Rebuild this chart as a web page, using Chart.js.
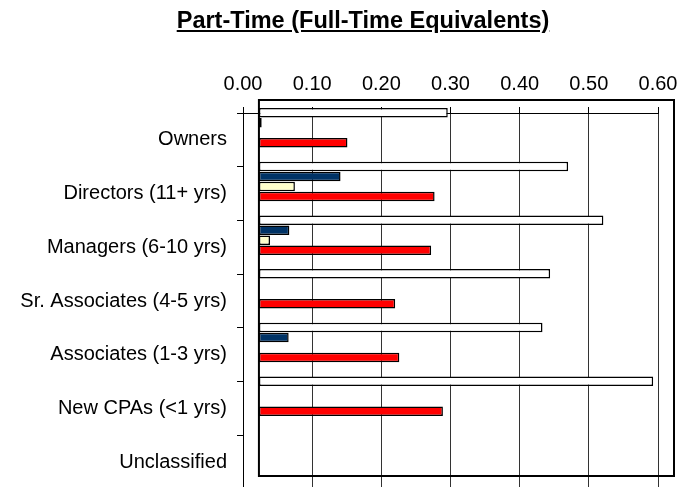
<!DOCTYPE html>
<html>
<head>
<meta charset="utf-8">
<script src="https://cdn.jsdelivr.net/npm/chart.js@4/dist/chart.umd.min.js"></script>
<style>
    html, body { margin: 0; padding: 0; background: #fff; }
    #wrap { position: relative; width: 690px; height: 487px; overflow: hidden; }
    #title {
        position: absolute; left: 0; width: 726px; top: 9px;
        text-align: center; font: bold 23.5px "Liberation Sans", Arial, sans-serif;
        line-height: 23px; text-decoration: underline; color: #000;
    }
    #chart { position: absolute; left: 0; top: 0; }
</style>
</head>
<body>
<div id="wrap">
    <canvas id="chart" width="690" height="511"></canvas>
    <div id="title">Part-Time (Full-Time Equivalents)</div>
</div>
<script>
(function () {
    const CATEGORIES = [
        "Owners",
        "Directors (11+ yrs)",
        "Managers (6-10 yrs)",
        "Sr. Associates (4-5 yrs)",
        "Associates (1-3 yrs)",
        "New CPAs (<1 yrs)",
        "Unclassified"
    ];

    // one value per category, null where no bar is shown
    const seriesWhite  = [0.296, 0.470, 0.521, 0.444, 0.433, 0.593, null];
    const seriesNavy   = [0.027, 0.141, 0.067, null, 0.066, null, null];
    const seriesYellow = [null, 0.075, 0.039, null, null, null, null];
    const seriesRed    = [0.151, 0.277, 0.272, 0.220, 0.226, 0.289, null];

    const X_TICKS = [0, 0.1, 0.2, 0.3, 0.4, 0.5, 0.6];

    // bars in the original start a little right of the 0.00 line
    const BAR_BASE = 0.023;
    const FONT = "'Liberation Sans', Arial, sans-serif";

    function toPoints(values) {
        return values.map((v, i) => ({ x: v, y: i }));
    }

    function makeSet(values, color) {
        return {
            data: toPoints(values),
            backgroundColor: color,
            borderColor: "#000",
            borderWidth: 1.5,
            borderSkipped: false,
            base: BAR_BASE,
            clip: false,
            categoryPercentage: 0.745,
            barPercentage: 0.95
        };
    }

    // the plot frame is offset from the axes, as in the original export
    var plotFrame = {
        id: "plotFrame",
        afterDatasetsDraw(chart) {
            var ctx = chart.ctx,
                area = chart.chartArea,
                left = chart.scales.x.getPixelForValue(BAR_BASE);

            ctx.save();
            ctx.strokeStyle = "#000";
            ctx.lineWidth = 2;
            ctx.strokeRect(left, area.top - 13, area.right + 16 - left, area.bottom - area.top);
            ctx.restore();
        }
    };

    new Chart(document.getElementById("chart"), {
        type: "bar",
        data: {
            datasets: [
                makeSet(seriesWhite, "#ffffff"),
                makeSet(seriesNavy, "#003366"),
                makeSet(seriesYellow, "#ffffcc"),
                makeSet(seriesRed, "#ff0000")
            ]
        },
        options: {
            indexAxis: "y",
            responsive: false,
            animation: false,
            layout: { padding: { top: 61, left: 10.3, right: 32, bottom: 6 } },
            plugins: {
                legend: { display: false },
                tooltip: { enabled: false }
            },
            scales: {
                x: {
                    type: "linear",
                    position: "top",
                    min: X_TICKS[0],
                    max: X_TICKS[X_TICKS.length - 1],
                    afterBuildTicks: scale => {
                        scale.ticks = X_TICKS.map(v => ({ value: v }));
                    },
                    ticks: {
                        color: "#000",
                        padding: 11,
                        font: { family: FONT, size: 20 },
                        callback: v => Number(v).toFixed(2)
                    },
                    grid: { color: "#333", lineWidth: 1, tickLength: 6, tickColor: "#000" },
                    border: { color: "#000", width: 1 }
                },
                // index axis for the bars: hidden, groups sit a bit above the label bands
                y: {
                    type: "linear",
                    display: false,
                    offset: false,
                    reverse: true,
                    min: -0.274,
                    max: 6.726,
                    afterBuildTicks: scale => {
                        scale.ticks = CATEGORIES.map((c, i) => ({ value: i }));
                    }
                },
                yl: {
                    type: "category",
                    position: "left",
                    labels: CATEGORIES,
                    offset: true,
                    ticks: {
                        color: "#000",
                        padding: 10,
                        font: { family: FONT, size: 20 }
                    },
                    grid: {
                        offset: true,
                        drawOnChartArea: false,
                        tickLength: 6,
                        color: "#000"
                    },
                    border: { color: "#000", width: 1 }
                }
            }
        },
        plugins: [plotFrame]
    });
})();
</script>
</body>
</html>
